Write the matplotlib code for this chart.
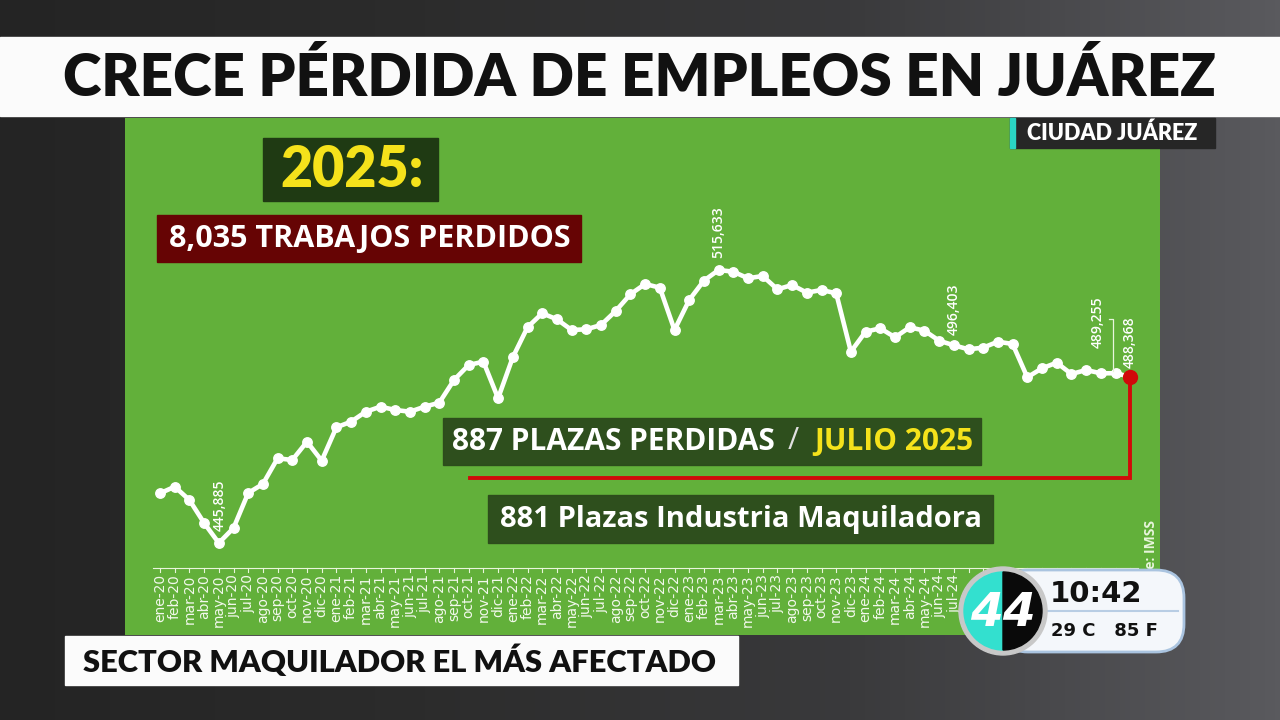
import matplotlib
matplotlib.use("Agg")
import matplotlib.pyplot as plt
import numpy as np
from matplotlib.patches import Rectangle, FancyBboxPatch, Wedge, Circle
from matplotlib.transforms import blended_transform_factory

# ---------------- data ----------------
month_names = ['ene', 'feb', 'mar', 'abr', 'may', 'jun', 'jul', 'ago', 'sep', 'oct', 'nov', 'dic']
years = ['20', '21', '22', '23', '24', '25']
n_months = 67  # ene-20 .. jul-25
tick_labels = [f"{m}-{y}" for y in years for m in month_names][:n_months]
n_visible_ticklabels = 55  # labels after jul-24 sit behind the clock widget

empleos = [458580, 460270, 456870, 451000, 445885, 449700, 458660, 460960, 467525, 467090,
           471770, 466910, 475440, 476880, 479430, 480710, 479870, 479430, 480710, 481730,
           487530, 491370, 492210, 482860, 493330, 501000, 504570, 503040, 500310, 500480,
           501580, 505160, 509430, 512060, 511120, 500310, 507970, 512910, 515633, 515200,
           513520, 514100, 510700, 511800, 509840, 510530, 509680, 494760, 499870, 500740,
           498440, 501000, 500130, 497570, 496403, 495370, 495800, 497320, 496730, 488220,
           490520, 491950, 489060, 490080, 489240, 489255, 488368]

labeled_points = {4: '445,885', 38: '515,633', 54: '496,403', 65: '489,255', 66: '488,368'}

title = 'CRECE PÉRDIDA DE EMPLEOS EN JUÁREZ'
lower_third = 'SECTOR MAQUILADOR EL MÁS AFECTADO'

# ---------------- figure ----------------
W, H = 1280, 720
fig = plt.figure(figsize=(12.8, 7.2), dpi=100)

# background (dark gradient)
bg = fig.add_axes([0, 0, 1, 1], zorder=0)
grad = np.linspace(0, 1, 256)[None, :]
bg.imshow(grad, extent=[0, W, H, 0], aspect='auto',
          cmap=matplotlib.colors.LinearSegmentedColormap.from_list(
              'g', ['#242424', '#2c2c2c', '#3a3a3c', '#5a5a5e']))
bg.set_xlim(0, W); bg.set_ylim(H, 0); bg.axis('off')

# data axes: green panel
px_left, px_right, px_top, px_bot = 125, 1160, 118, 635
ax = fig.add_axes([px_left / W, 1 - px_bot / H, (px_right - px_left) / W, (px_bot - px_top) / H], zorder=1)
ax.set_facecolor('#62b03a')
x0_px, dx_px = 160, 14.7
ax.set_xlim((px_left - x0_px) / dx_px, (px_right - x0_px) / dx_px)
v_per_px = (515633 - 445885) / (543 - 270)
ax.set_ylim(445885 - (px_bot - 543) * v_per_px, 445885 + (543 - px_top) * v_per_px)
for s in ax.spines.values():
    s.set_visible(False)
ax.set_xticks([]); ax.set_yticks([])

x = np.arange(len(empleos))
ax.plot(x, empleos, color='white', lw=3.3, marker='o', ms=6.8, mfc='white', mec='white',
        solid_joinstyle='round', zorder=3)

# value labels (offsets in value units above the point)
label_offsets = {4: (0.05, 3000), 38: (0.0, 3000), 54: (0.0, 2500), 65: (-1.2, 6450), 66: (0.0, 2300)}
for i, txt in labeled_points.items():
    dx, dy = label_offsets[i]
    ax.text(i + dx, empleos[i] + dy, txt, rotation=90, ha='center', va='bottom',
            color='white', fontsize=10, family='Open Sans', weight='semibold', zorder=4)
# leader for the 489,255 label
ax.plot([65 - 0.15, 65 - 0.15, 65 - 0.45],
        [empleos[65] + 700, empleos[65] + 13800, empleos[65] + 13800],
        color='#e8f5dc', lw=0.9, zorder=3)

# red indicator line and end dot
last = len(empleos) - 1
red_y = 445885 - (478 - 543) * v_per_px
ax.plot([(470 - x0_px) / dx_px, last, last], [red_y, red_y, empleos[last]],
        color='#d10a0a', lw=2.8, solid_joinstyle='miter', zorder=4)
ax.plot([last], [empleos[last]], 'o', color='#d10a0a', ms=10, zorder=5)

# x axis (inside panel)
trans = blended_transform_factory(ax.transData, ax.transAxes)
axis_y = 1 - (568 - px_top) / (px_bot - px_top)
ax.plot([-0.5, last + 0.5], [axis_y, axis_y], transform=trans, color='#e8f5dc', lw=0.8, zorder=2)
for i, lab in enumerate(tick_labels):
    ax.plot([i, i], [axis_y, axis_y - 0.008], transform=trans, color='#e8f5dc', lw=0.8, zorder=2)
    if i < n_visible_ticklabels:
        ax.text(i, axis_y - 0.012, lab, rotation=90, ha='center', va='top', transform=trans,
                color='#f2f8ec', fontsize=10, family='DejaVu Sans', zorder=2)

# ---------------- overlay (broadcast graphics) ----------------
ov = fig.add_axes([0, 0, 1, 1], zorder=2)
ov.set_xlim(0, W); ov.set_ylim(H, 0); ov.axis('off')
ov.patch.set_alpha(0)

HEAVY = dict(family='Lato', weight='heavy')
BOLD = dict(family='Open Sans', weight='bold')

# title banner
ov.add_patch(Rectangle((0, 37), W, 79, color='#fbfbfb', zorder=1))
ov.text(639, 77, title, ha='center', va='center', fontsize=42, color='#111111', **HEAVY)

# ciudad juarez tag
ov.add_patch(Rectangle((1010, 118), 205, 30, color='#262626', zorder=1))
ov.add_patch(Rectangle((1010, 118), 5, 30, color='#2ad6c4', zorder=2))
ov.text(1112, 133, 'CIUDAD JUÁREZ', ha='center', va='center', fontsize=15.5, color='white',
        zorder=3, **HEAVY)

# 2025 box
ov.add_patch(Rectangle((263, 138), 175, 63, color='#1f3a13', zorder=1))
ov.text(352, 170, '2025:', ha='center', va='center', fontsize=40, color='#f5e21b', zorder=3, **HEAVY)

# 8,035 box
ov.add_patch(Rectangle((157, 215), 424, 47, color='#660404', zorder=1))
ov.text(370, 239, '8,035 TRABAJOS PERDIDOS', ha='center', va='center', fontsize=22,
        color='white', zorder=3, **BOLD)

# 887 plazas box
ov.add_patch(Rectangle((443, 418), 538, 47, color='#2c4a1c', alpha=0.95, zorder=1))
ov.text(452, 442, '887 PLAZAS PERDIDAS', ha='left', va='center', fontsize=21.5,
        color='white', zorder=3, **BOLD)
ov.text(793, 441, '/', ha='center', va='center', fontsize=22, color='#e0e0e0', zorder=3,
        family='Open Sans')
ov.text(973, 442, 'JULIO 2025', ha='right', va='center', fontsize=21.5,
        color='#f5e21b', zorder=3, **BOLD)

# 881 plazas box
ov.add_patch(Rectangle((488, 495), 505, 48, color='#2c4a1c', alpha=0.95, zorder=1))
ov.text(741, 520, '881 Plazas Industria Maquiladora', ha='center', va='center', fontsize=21,
        color='white', zorder=3, **BOLD)

# source (partly hidden behind the clock, as in the broadcast)
ov.text(1151, 520, 'Fuente: IMSS', rotation=90, ha='center', va='top', fontsize=10,
        color='#e8f5dc', zorder=3, **BOLD)

# lower third
ov.add_patch(Rectangle((65, 636), 673, 49, color='#fbfbfb', zorder=4))
ov.text(83, 661, lower_third, ha='left', va='center', fontsize=22.2, color='#111111',
        zorder=5, **HEAVY)

# clock widget
ov.add_patch(FancyBboxPatch((1000, 570), 184, 82, boxstyle='round,pad=0,rounding_size=28',
                            facecolor='#f4f7fb', edgecolor='#aac4e0', lw=2, zorder=4))
ov.plot([1045, 1178], [611, 611], color='#b8cde4', lw=1.5, zorder=5)
ov.text(1050, 594, '10:42', ha='left', va='center', fontsize=21, color='#111111',
        zorder=6, family='DejaVu Sans', weight='bold')
ov.text(1051, 631, '29 C   85 F', ha='left', va='center', fontsize=13, color='#111111',
        zorder=6, family='DejaVu Sans', weight='bold')
ov.add_patch(Circle((1003, 611), 44, color='#c8c8c8', zorder=6))
ov.add_patch(Wedge((1003, 611), 39, 90, 270, color='#33e0cf', zorder=7))
ov.add_patch(Wedge((1003, 611), 39, -90, 90, color='#0a0a0a', zorder=7))
ov.text(1003, 613, '44', ha='center', va='center', fontsize=34, color='white', zorder=8,
        family='DejaVu Sans', weight='bold', style='italic')

fig.savefig('out.png', dpi=100)
